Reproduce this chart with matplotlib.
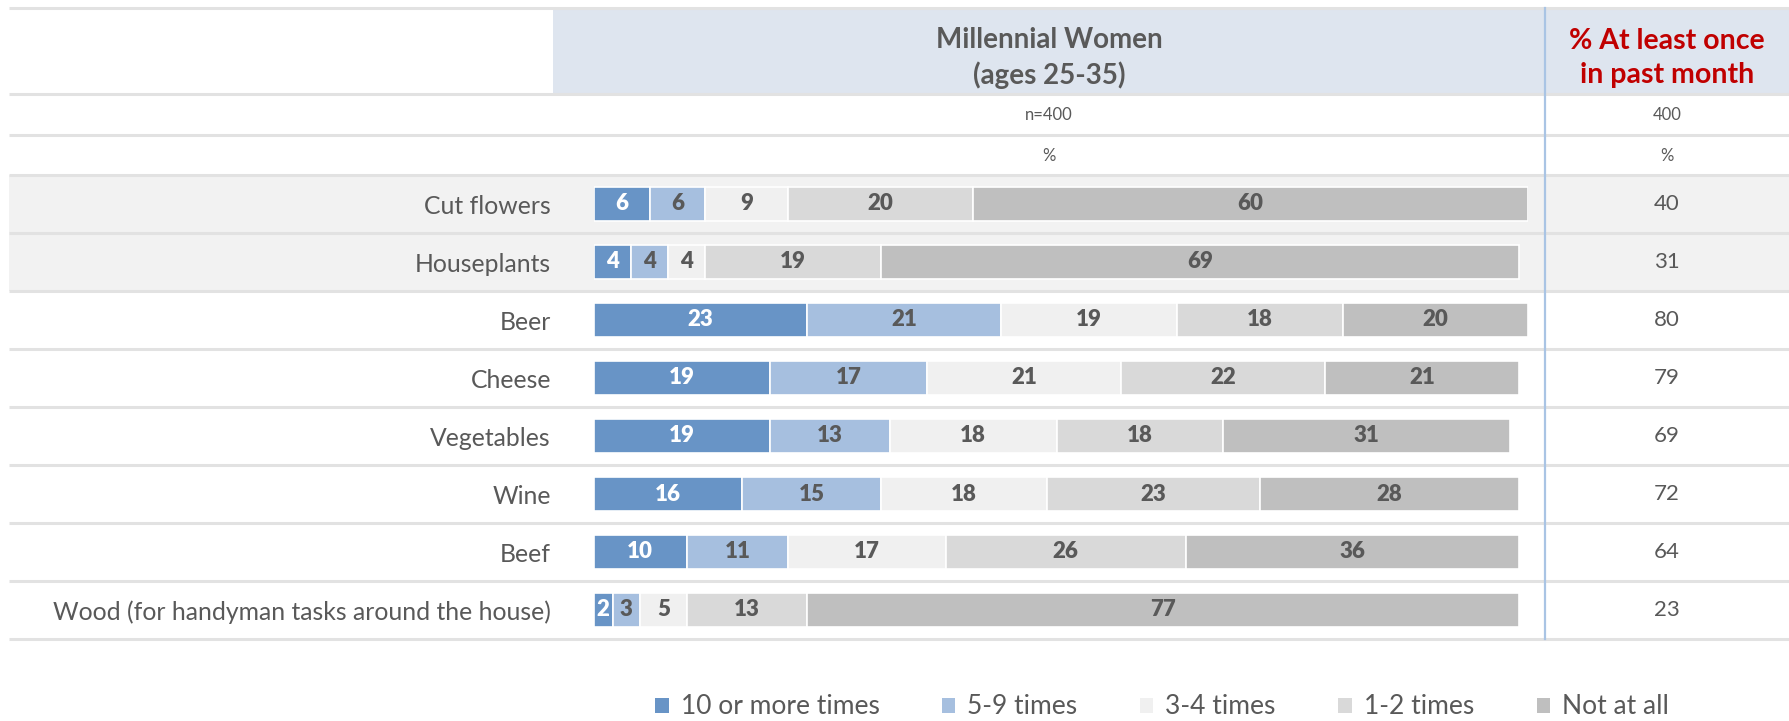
import matplotlib
matplotlib.use("Agg")
import matplotlib.pyplot as plt
from matplotlib.patches import Patch, Rectangle
from matplotlib.transforms import blended_transform_factory

plt.rcParams['font.family'] = ['Lato', 'DejaVu Sans']

# survey data
categories = ['Cut flowers', 'Houseplants', 'Beer', 'Cheese', 'Vegetables',
              'Wine', 'Beef', 'Wood (for handyman tasks around the house)']
series_names = ['10 or more times', '5-9 times', '3-4 times', '1-2 times', 'Not at all']
ten_plus = [6, 4, 23, 19, 19, 16, 10, 2]
five_nine = [6, 4, 21, 17, 13, 15, 11, 3]
three_four = [9, 4, 19, 21, 18, 18, 17, 5]
one_two = [20, 19, 18, 22, 18, 23, 26, 13]
not_at_all = [60, 69, 20, 21, 31, 28, 36, 77]
at_least_once = [40, 31, 80, 79, 69, 72, 64, 23]
base_n = 400

colors = ['#6894c6', '#a6bfdf', '#f0f0f0', '#d9d9d9', '#bfbfbf']
label_colors = ['white', '#595959', '#595959', '#595959', '#595959']
grey = '#595959'
line_col = '#e2e2e2'

W, H = 1789, 721
fig = plt.figure(figsize=(W / 100, H / 100), dpi=100)

# background axes in pixel units for the table frame
bg = fig.add_axes([0, 0, 1, 1])
bg.set_xlim(0, W)
bg.set_ylim(H, 0)
bg.axis('off')

row_top, row_h = 175, 58
n_rows = len(categories)
table_bottom = row_top + row_h * n_rows
split_x = 1545
left_x = 9

# header shading
bg.add_patch(Rectangle((553, 10), W - 553, 83, facecolor='#dee5ef', edgecolor='none', zorder=0))
# grey band behind the first two rows
bg.add_patch(Rectangle((left_x, row_top), W - left_x, 2 * row_h, facecolor='#f2f2f2',
                       edgecolor='none', zorder=0))

for y in [8, 94, 135, row_top] + [row_top + row_h * (i + 1) for i in range(n_rows)]:
    bg.plot([left_x, W], [y, y], color=line_col, lw=2.2, zorder=1, solid_capstyle='butt')
bg.plot([split_x, split_x], [8, table_bottom], color='#a9c4e4', lw=1.6, zorder=2)

mid_x = (553 + split_x) / 2
right_x = (split_x + W) / 2
bg.text(mid_x, 58, 'Millennial Women\n(ages 25-35)', ha='center', va='center',
        fontsize=20, fontweight='bold', color=grey, linespacing=1.38)
bg.text(right_x, 58, '% At least once\nin past month', ha='center', va='center',
        fontsize=20.5, fontweight='bold', color='#c00000', linespacing=1.36)
bg.text(mid_x, 115, 'n=%d' % base_n, ha='center', va='center', fontsize=12, color=grey)
bg.text(right_x, 115, str(base_n), ha='center', va='center', fontsize=12, color=grey)
bg.text(mid_x, 156, '%', ha='center', va='center', fontsize=12, color=grey)
bg.text(right_x, 156, '%', ha='center', va='center', fontsize=12, color=grey)

# bar axes: 9.25 px per percentage point
bar_x0 = 594
unit = 9.25
xmax = 101
ax = fig.add_axes([bar_x0 / W, 1 - table_bottom / H, unit * xmax / W, row_h * n_rows / H])
ax.patch.set_alpha(0)
ax.set_xlim(0, xmax)
ax.set_ylim(n_rows - 0.5, -0.5)
for s in ax.spines.values():
    s.set_visible(False)
ax.set_xticks([])

ypos = list(range(n_rows))
left = [0] * n_rows
for vals, c, lc, name in zip([ten_plus, five_nine, three_four, one_two, not_at_all],
                             colors, label_colors, series_names):
    bars = ax.barh(ypos, vals, left=left, height=0.59, color=c, edgecolor='white',
                   linewidth=1.2, label=name, zorder=3)
    for b, v in zip(bars, vals):
        ax.text(b.get_x() + b.get_width() / 2, b.get_y() + b.get_height() / 2, str(v),
                ha='center', va='center', fontsize=16, fontweight='heavy', color=lc, zorder=4)
    left = [l + v for l, v in zip(left, vals)]

ax.set_yticks(ypos)
ax.set_yticklabels(categories, fontsize=17.8, color=grey)
ax.tick_params(axis='y', length=0, pad=31)

tr = blended_transform_factory(bg.transData, ax.transData)
for i, v in enumerate(at_least_once):
    ax.text(right_x, i, str(v), transform=tr, ha='center', va='center', fontsize=16, color=grey)

handles = [Patch(facecolor=c, edgecolor='none') for c in colors]
fig.legend(handles, series_names, loc='center', bbox_to_anchor=(1162 / W, 1 - 707 / H),
           ncol=5, frameon=False, fontsize=19, labelcolor=grey, handlelength=0.5,
           handleheight=0.5, handletextpad=0.45, columnspacing=2.38, borderpad=0)

fig.savefig('out.png', dpi=100)
